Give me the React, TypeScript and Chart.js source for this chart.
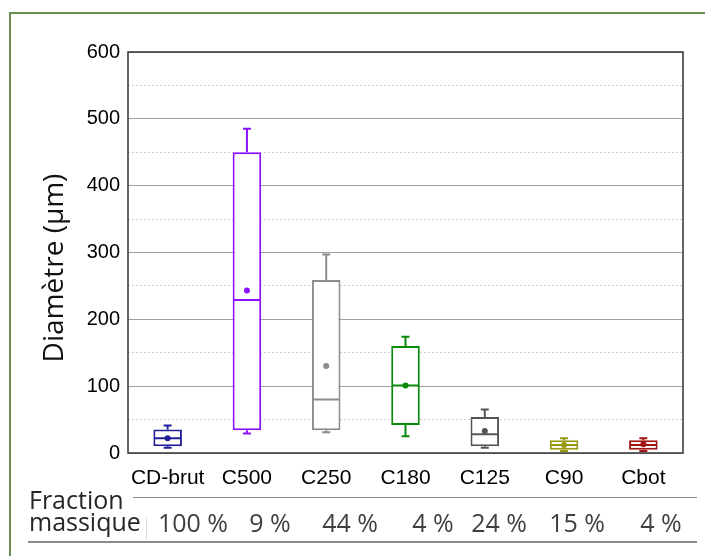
import React, { useEffect, useRef } from 'react';
import { Chart, registerables } from 'chart.js';

Chart.register(...registerables);

// ---- data ----
const categories = ['CD-brut', 'C500', 'C250', 'C180', 'C125', 'C90', 'Cbot'];
const whiskerMin = [8, 29, 31, 25, 8, 3, 3];
const q1 = [10, 34, 34, 42, 10, 5, 5];
const median = [22, 229, 80, 101, 28, 12, 12];
const q3 = [35, 450, 259, 160, 54, 19, 19];
const whiskerMax = [41, 485, 297, 174, 65, 22, 22];
const mean = [22, 243, 130, 101, 33, 12, 13];
const boxColors = ['#1f1f99', '#8a10ff', '#8c8c8c', '#0a8a0a', '#555555', '#999910', '#a01414'];
const yTickValues = [0, 100, 200, 300, 400, 500, 600];
const yTitle = 'Diamètre (µm)';
const fractionLabel = ['Fraction', 'massique'];
const massFractions = ['100 %', '9 %', '44 %', '4 %', '24 %', '15 %', '4 %'];

// layout (not data)
const fractionCenters = [193, 270, 350, 433, 499, 577, 661];

const boxPlugin = {
  id: 'boxWhisker',
  afterDatasetsDraw(chart: any) {
    const { ctx, chartArea } = chart;
    const y = chart.scales.y;
    const meta = chart.getDatasetMeta(0);
    meta.data.forEach((bar: any, i: number) => {
      const x = bar.x;
      const half = bar.width / 2;
      const cap = 4;
      ctx.save();
      ctx.strokeStyle = boxColors[i];
      ctx.fillStyle = boxColors[i];
      ctx.lineWidth = 2;
      const yMed = y.getPixelForValue(median[i]);
      const yQ1 = y.getPixelForValue(q1[i]);
      const yQ3 = y.getPixelForValue(q3[i]);
      const yMin = y.getPixelForValue(whiskerMin[i]);
      const yMax = y.getPixelForValue(whiskerMax[i]);
      ctx.beginPath();
      ctx.moveTo(x - half + 1, yMed);
      ctx.lineTo(x + half - 1, yMed);
      ctx.moveTo(x, yQ3);
      ctx.lineTo(x, yMax);
      ctx.moveTo(x - cap, yMax);
      ctx.lineTo(x + cap, yMax);
      ctx.moveTo(x, yQ1);
      ctx.lineTo(x, yMin);
      ctx.moveTo(x - cap, yMin);
      ctx.lineTo(x + cap, yMin);
      ctx.stroke();
      ctx.beginPath();
      ctx.arc(x, y.getPixelForValue(mean[i]), 3, 0, Math.PI * 2);
      ctx.fill();
      ctx.restore();
    });
    ctx.save();
    ctx.strokeStyle = '#333333';
    ctx.lineWidth = 1.5;
    ctx.strokeRect(chartArea.left, chartArea.top, chartArea.right - chartArea.left, chartArea.bottom - chartArea.top);
    ctx.restore();
  },
  afterDraw(chart: any) {
    const { ctx } = chart;
    ctx.save();
    ctx.translate(55, 268);
    ctx.rotate(-Math.PI / 2);
    ctx.font = '28px "Open Sans"';
    ctx.fillStyle = '#111111';
    ctx.textAlign = 'center';
    ctx.textBaseline = 'middle';
    ctx.fillText(yTitle, 0, 0);
    ctx.restore();
  },
};

export default function App() {
  const canvasRef = useRef<HTMLCanvasElement | null>(null);

  useEffect(() => {
    if (!canvasRef.current) return;
    const chart = new Chart(canvasRef.current, {
      type: 'bar',
      data: {
        labels: categories,
        datasets: [
          {
            data: categories.map((_, i) => [q1[i], q3[i]]) as any,
            backgroundColor: '#ffffff',
            borderColor: boxColors,
            borderWidth: 2,
            borderSkipped: false,
            barPercentage: 0.36,
            categoryPercentage: 1,
          },
        ],
      },
      options: {
        responsive: false,
        animation: false,
        maintainAspectRatio: false,
        layout: { padding: { left: 0, right: 22, top: 52, bottom: 0 } },
        plugins: { legend: { display: false }, tooltip: { enabled: false }, title: { display: false } },
        scales: {
          x: {
            type: 'category',
            grid: { display: false, drawTicks: false },
            border: { display: false },
            ticks: {
              autoSkip: false,
              maxRotation: 0,
              padding: 13,
              color: '#000000',
              font: { family: '"Liberation Sans", Arial, sans-serif', size: 21 },
            },
            afterFit: (s: any) => {
              s.height = 103;
            },
          },
          y: {
            min: 0,
            max: 600,
            ticks: {
              stepSize: 50,
              padding: 8,
              color: '#000000',
              font: { family: '"Liberation Sans", Arial, sans-serif', size: 20 },
              callback: (v: any) => (yTickValues.includes(Number(v)) ? String(v) : ''),
            },
            grid: {
              drawTicks: false,
              color: (ctx: any) =>
                ctx.tick && yTickValues.includes(ctx.tick.value) ? '#a0a0a0' : '#d0d0d0',
              lineWidth: 1,
            },
            border: {
              display: false,
              dash: (ctx: any) =>
                ctx.tick && !yTickValues.includes(ctx.tick.value) ? [2, 2] : [],
            },
            afterFit: (s: any) => {
              s.width = 128;
            },
          },
        },
      },
      plugins: [boxPlugin],
    });
    return () => chart.destroy();
  }, []);

  const tableFont = '"Open Sans", "Noto Sans", sans-serif';

  return (
    <div style={{ position: 'absolute', left: 0, top: 0, width: 705, height: 556, overflow: 'hidden', background: '#ffffff' }}>
      <div
        style={{
          position: 'absolute',
          left: 9,
          top: 12,
          width: 720,
          height: 600,
          borderTop: '2px solid #6b8f52',
          borderLeft: '2px solid #6b8f52',
        }}
      />
      <canvas ref={canvasRef} width={705} height={556} style={{ position: 'absolute', left: 0, top: 0 }} />
      <div style={{ position: 'absolute', left: 133, top: 497, width: 564, borderTop: '1.5px solid #8a8a8a' }} />
      <div style={{ position: 'absolute', left: 28, top: 541, width: 669, borderTop: '2px solid #8a8a8a' }} />
      <div style={{ position: 'absolute', left: 146, top: 518, height: 22, borderLeft: '1px solid #dddddd' }} />
      <div
        style={{
          position: 'absolute',
          left: 29,
          top: 488,
          fontFamily: tableFont,
          fontSize: 25,
          lineHeight: '22px',
          color: '#262626',
          whiteSpace: 'nowrap',
        }}
      >
        {fractionLabel.map((t) => (
          <div key={t}>{t}</div>
        ))}
      </div>
      {massFractions.map((t, i) => (
        <div
          key={i}
          style={{
            position: 'absolute',
            left: fractionCenters[i] - 50,
            width: 100,
            top: 511,
            textAlign: 'center',
            fontFamily: tableFont,
            fontSize: 25,
            lineHeight: '22px',
            color: '#404040',
            whiteSpace: 'nowrap',
          }}
        >
          {t}
        </div>
      ))}
    </div>
  );
}
